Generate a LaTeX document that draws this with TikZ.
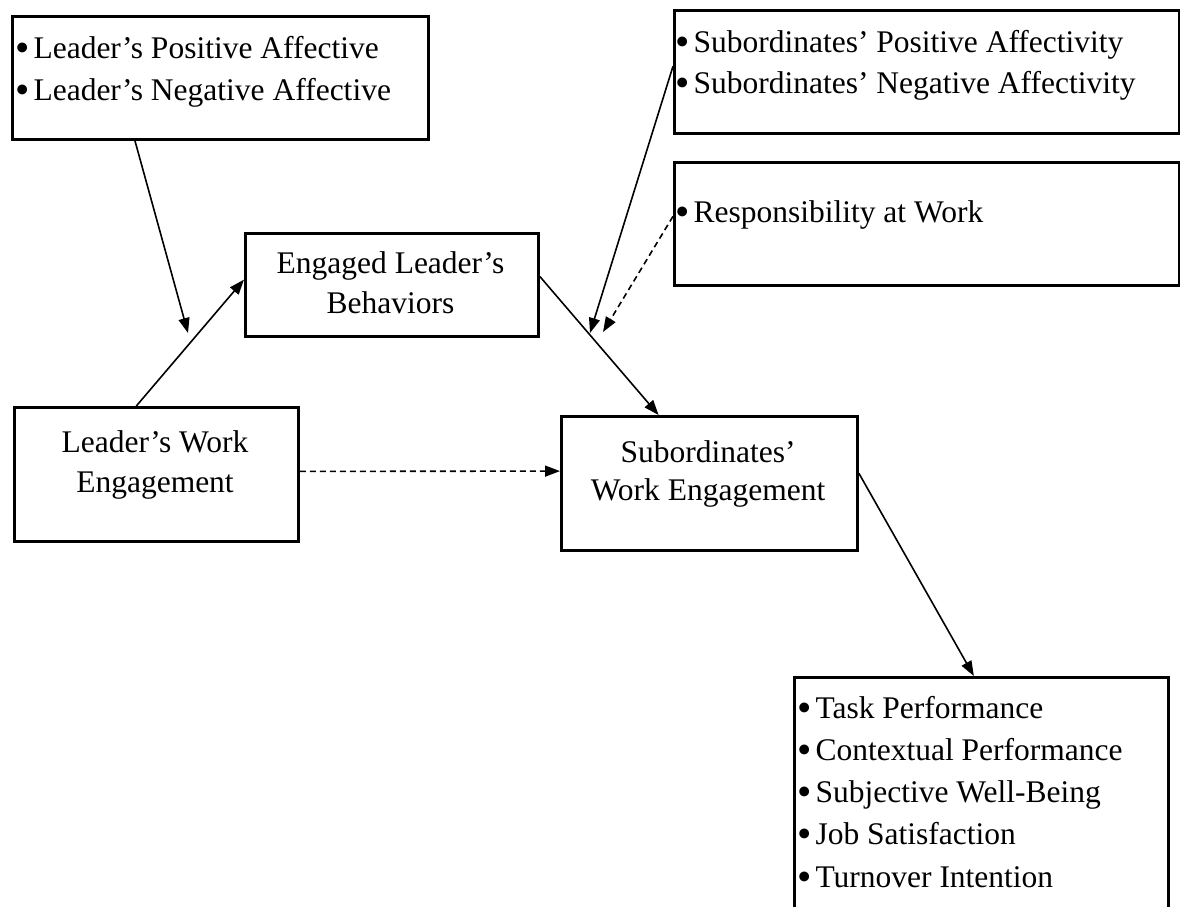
\documentclass[tikz,border=0pt]{standalone}
\usepackage{fontspec}
\setmainfont{Liberation Serif}
\usetikzlibrary{arrows.meta,calc}
% a slightly larger list bullet
\newcommand{\listdot}{\raisebox{-3pt}{\scalebox{1.3}{\textbullet}}\hspace{4pt}}
\begin{document}
\begin{tikzpicture}[x=1pt,y=-1pt,
  box/.style={draw=black,line width=2.8pt,anchor=north west,inner sep=0pt},
  label/.style={inner sep=0pt,font=\fontsize{31.5}{40}\selectfont},
  itemline/.style={label,anchor=base west},
  centreline/.style={label,anchor=base},
  link/.style={line width=1.6pt,-{Triangle[length=15pt,width=11pt]}},
  dashlink/.style={link,dash pattern=on 6pt off 4pt}]
\useasboundingbox (0,0) rectangle (1180,906);

% boxes
\node[box,minimum width=416pt,minimum height=123pt] (tl) at (11,15) {};
\node[box,minimum width=505pt,minimum height=123pt] (tr) at (673,9) {};
\node[box,minimum width=505pt,minimum height=123pt] (resp) at (673,161) {};
\node[box,minimum width=293pt,minimum height=103pt] (elb) at (244,232) {};
\node[box,minimum width=284pt,minimum height=134pt] (lwe) at (13,406) {};
\node[box,minimum width=296pt,minimum height=134pt] (swe) at (560,415) {};
\node[box,minimum width=374pt,minimum height=240pt] (out) at (793,676) {};

% box texts
\node[itemline] (tl1) at (15,58) {\listdot Leader’s Positive Affective};
\node[itemline] (tl2) at (15,100) {\listdot Leader’s Negative Affective};
\node[itemline] (tr1) at (675,52) {\listdot Subordinates’ Positive Affectivity};
\node[itemline] (tr2) at (675,93) {\listdot Subordinates’ Negative Affectivity};
\node[itemline] (resp1) at (675,222) {\listdot Responsibility at Work};
\node[centreline] (elb1) at (390.5,273) {Engaged Leader’s};
\node[centreline] (elb2) at (390.5,313) {Behaviors};
\node[centreline] (lwe1) at (155,452) {Leader’s Work};
\node[centreline] (lwe2) at (155,492) {Engagement};
\node[centreline] (swe1) at (708,462) {Subordinates’};
\node[centreline] (swe2) at (708,500) {Work Engagement};
\node[itemline] (out1) at (797,718) {\listdot Task Performance};
\node[itemline] (out2) at (797,760) {\listdot Contextual Performance};
\node[itemline] (out3) at (797,802) {\listdot Subjective Well-Being};
\node[itemline] (out4) at (797,844) {\listdot Job Satisfaction};
\node[itemline] (out5) at (797,887) {\listdot Turnover Intention};

% points where moderators meet the paths
\coordinate (m0) at (188,333);
\coordinate (m1) at (590,333);
\coordinate (m2) at (603,332);

% main paths
\draw[link] ($(lwe.north west)!0.43!(lwe.north east)$) -- ($(elb.north west)!0.45!(elb.south west)$);
\draw[link] ($(elb.north east)!0.42!(elb.south east)$) -- ($(swe.north west)!0.33!(swe.north east)$);
\draw[dashlink] ($(lwe.north east)!0.478!(lwe.south east)$) -- ($(swe.north west)!0.41!(swe.south west)$);
\draw[link] ($(swe.north east)!0.425!(swe.south east)$) -- ($(out.north west)!0.48!(out.north east)$);

% moderators
\draw[link] ($(tl.south west)!0.296!(tl.south east)$) -- (m0);
\draw[link] ($(tr.north west)!0.455!(tr.south west)$) -- (m1);
\draw[dashlink] ($(resp.north west)!0.44!(resp.south west)$) -- (m2);
\end{tikzpicture}
\end{document}
